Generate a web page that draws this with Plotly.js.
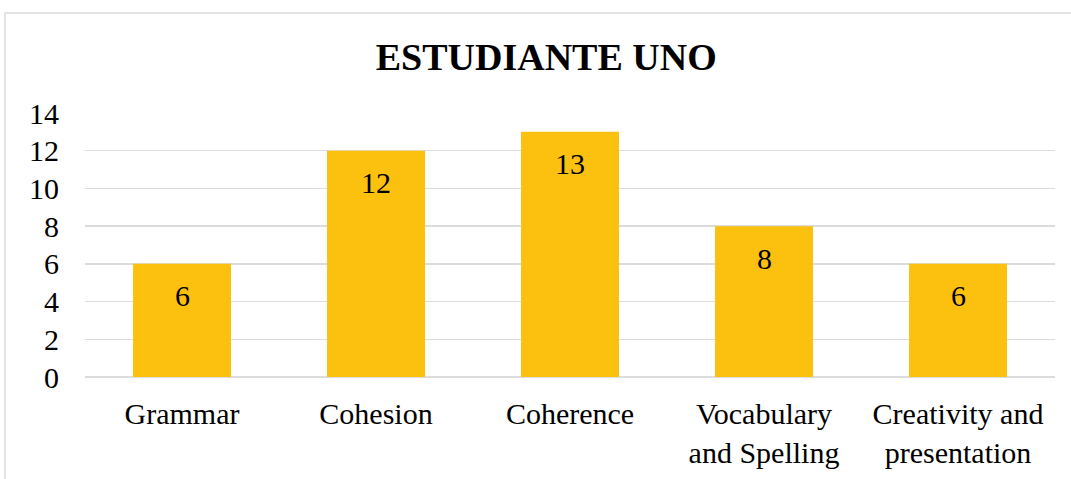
<!DOCTYPE html>
<html>
<head>
<meta charset="utf-8">
<script src="https://cdn.plot.ly/plotly-3.0.1.min.js"></script>
<style>html,body{margin:0;padding:0;background:#fff;}#chart{width:1071px;height:479px;}</style>
</head>
<body>
<div id="chart"></div>
<script>
const categories = ["Grammar", "Cohesion", "Coherence", "Vocabulary<br>and Spelling", "Creativity and<br>presentation"];
const scores = [6, 12, 13, 8, 6];
const yTicks = [0, 2, 4, 6, 8, 10, 12, 14];
const chartTitle = "ESTUDIANTE UNO";

const font = "'Liberation Serif', 'Times New Roman', serif";

const trace = {
  type: "bar",
  x: categories,
  y: scores,
  marker: {color: "#FCC00E", line: {width: 0}},
  hoverinfo: "x+y"
};

const annotations = categories.map((c, i) => ({
  x: c, y: scores[i], xref: "x", yref: "y",
  text: String(scores[i]), showarrow: false,
  yanchor: "middle", yshift: -32,
  font: {family: font, size: 30, color: "#000"}
}));

const layout = {
  width: 1071, height: 479,
  margin: {l: 85, r: 16, t: 113, b: 102},
  paper_bgcolor: "#fff", plot_bgcolor: "#fff",
  title: {text: "<b>" + chartTitle + "</b>", font: {family: font, size: 38, color: "#000"},
          x: 0.51, xref: "container", y: 1 - 57/479, yref: "container", yanchor: "middle", xanchor: "center"},
  bargap: 0.495,
  showlegend: false,
  xaxis: {tickfont: {family: font, size: 30, color: "#000"}, showgrid: false, showline: false, ticks: "", ticklabelstandoff: 16},
  yaxis: {range: [0, 14], tickvals: yTicks, tickfont: {family: font, size: 30, color: "#000"},
          gridcolor: "#dcdcdc", gridwidth: 1.5, zeroline: true, zerolinecolor: "#dcdcdc", zerolinewidth: 1.5,
          showline: false, ticks: "", ticklabelstandoff: 25},
  annotations: annotations,
  shapes: [{type: "rect", xref: "paper", yref: "paper", x0: -0.0825, x1: 1.05, y0: -0.5, y1: 1.379,
            line: {color: "#dcdcdc", width: 1.5}, layer: "below"}]
};

Plotly.newPlot("chart", [trace], layout, {displayModeBar: false, staticPlot: true});
</script>
</body>
</html>
